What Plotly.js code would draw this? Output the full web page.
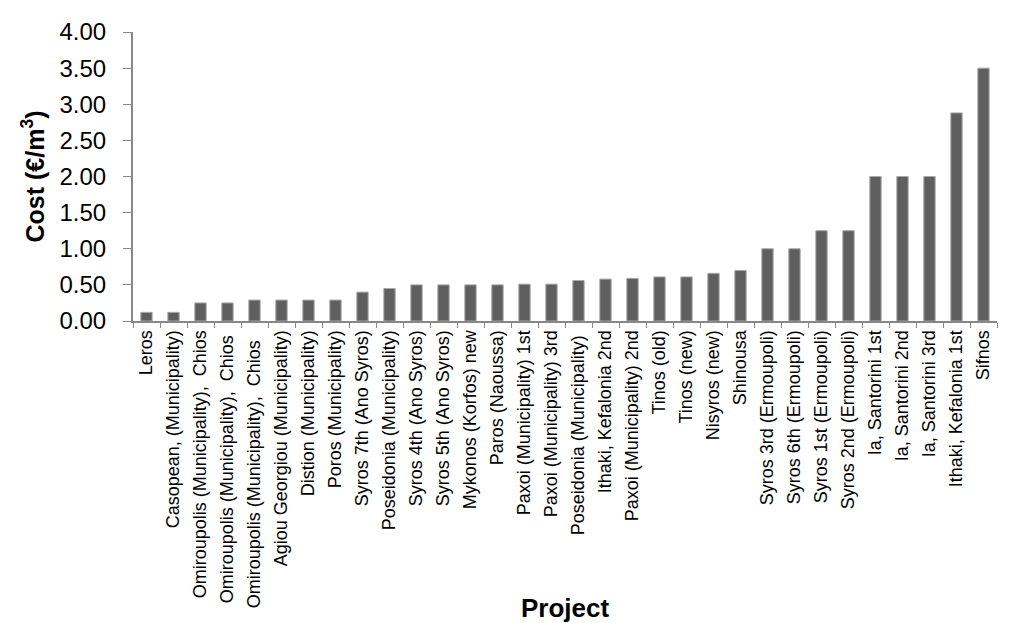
<!DOCTYPE html>
<html><head><meta charset="utf-8">
<script src="https://cdn.plot.ly/plotly-3.0.1.min.js"></script>
<style>html,body{margin:0;padding:0;background:#fff}#c{width:1024px;height:623px}</style>
</head><body><div id="c"></div>
<script>
const projects = ["Leros","Casopean, (Municipality)","Omiroupolis (Municipality),  Chios","Omiroupolis (Municipality),  Chios ","Omiroupolis (Municipality),  Chios  ","Agiou Georgiou (Municipality)","Distion (Municipality)","Poros (Municipality)","Syros 7th (Ano Syros)","Poseidonia (Municipality)","Syros 4th (Ano Syros)","Syros 5th (Ano Syros)","Mykonos (Korfos) new","Paros (Naoussa)","Paxoi (Municipality) 1st","Paxoi (Municipality) 3rd","Poseidonia (Municipality) ","Ithaki, Kefalonia 2nd","Paxoi (Municipality) 2nd","Tinos (old)","Tinos (new)","Nisyros (new)","Shinousa","Syros 3rd (Ermoupoli)","Syros 6th (Ermoupoli)","Syros 1st (Ermoupoli)","Syros 2nd (Ermoupoli)","Ia, Santorini 1st","Ia, Santorini 2nd","Ia, Santorini 3rd","Ithaki, Kefalonia 1st","Sifnos"];
const cost = [0.12,0.12,0.25,0.25,0.29,0.29,0.29,0.29,0.40,0.45,0.50,0.50,0.50,0.50,0.51,0.51,0.56,0.58,0.59,0.61,0.61,0.66,0.70,1.00,1.00,1.25,1.25,2.00,2.00,2.00,2.88,3.50];
const yTicks = [0,0.5,1,1.5,2,2.5,3,3.5,4];
const yTickText = yTicks.map(v=>v.toFixed(2));

Plotly.newPlot('c',[{
  type:'bar', x:projects, y:cost,
  marker:{color:'#5f5f5f', line:{color:'#a8a8a8', width:1}},
  hoverinfo:'x+y'
}],{
  width:1024, height:623,
  margin:{l:133,r:27,t:32,b:302},
  paper_bgcolor:'#fff', plot_bgcolor:'#fff',
  font:{family:'Liberation Sans, Arial, sans-serif', color:'#000'},
  bargap:0.58,
  showlegend:false,
  xaxis:{
    type:'category', tickangle:-90, tickson:'boundaries', ticks:'outside', ticklen:5, tickcolor:'#888', tickwidth:1,
    showline:true, linecolor:'#888', linewidth:2, showgrid:false, zeroline:false,
    tickfont:{size:18, color:'#000'},
    title:{text:'<b>Project</b>', font:{size:26, color:'#000'}, standoff:8}
  },
  yaxis:{
    range:[0,4], tickvals:yTicks, ticktext:yTickText, ticks:'outside', ticklen:8, tickcolor:'#888', tickwidth:1,
    showline:true, linecolor:'#888', linewidth:2, showgrid:false, zeroline:false,
    tickfont:{size:24, color:'#000'}, ticklabelstandoff:12,
    title:{text:'<b>Cost (€/m<sup>3</sup>)</b>', font:{size:25, color:'#000'}, standoff:8}
  }
},{displayModeBar:false, staticPlot:true});
</script></body></html>
